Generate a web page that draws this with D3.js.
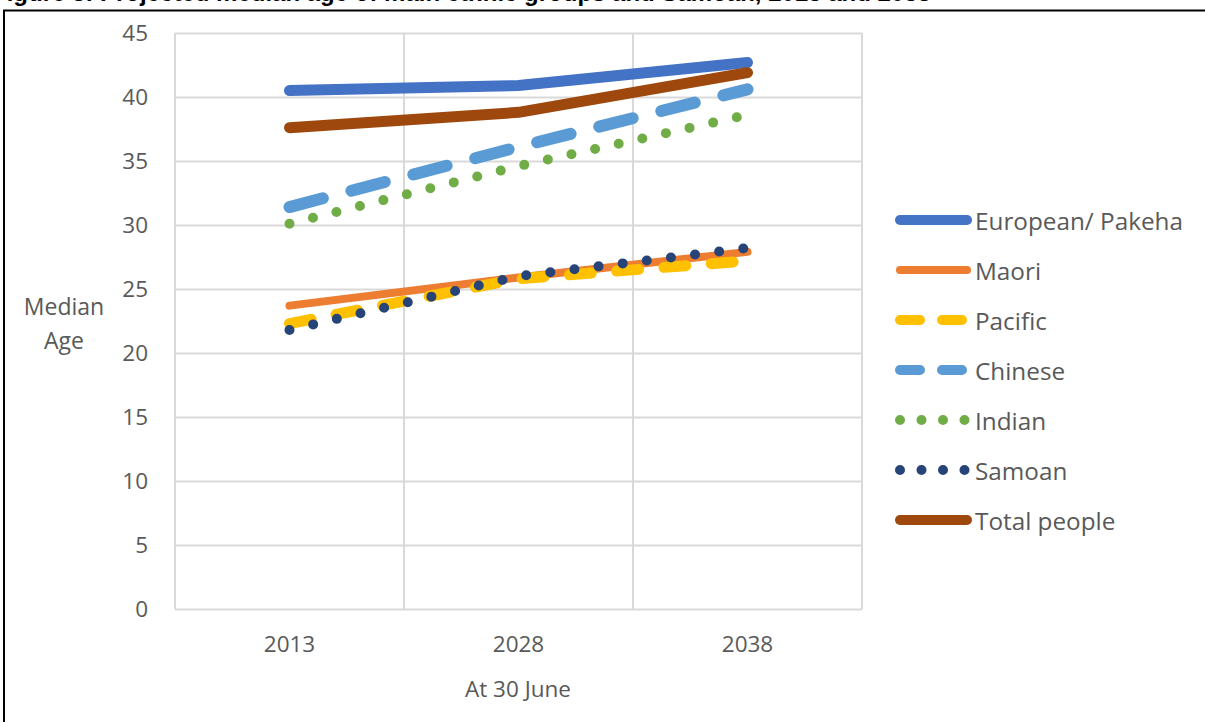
<!DOCTYPE html>
<html>
<head>
<meta charset="utf-8">
<script src="https://cdn.jsdelivr.net/npm/d3@7"></script>
<style>
  body { margin: 0; background: #fff; }
  svg { display: block; }
</style>
</head>
<body>
<svg id="chart" width="1205" height="722"></svg>
<script>
// Projected median age by ethnic group, at 30 June
const years = ["2013", "2028", "2038"];
const yTicks = [0, 5, 10, 15, 20, 25, 30, 35, 40, 45];

const european = [40.5, 40.9, 42.7];
const maori    = [23.7, 25.9, 27.9];
const pacific  = [22.3, 25.8, 27.2];
const chinese  = [31.4, 36.1, 40.6];
const indian   = [30.1, 34.6, 38.6];
const samoan   = [21.8, 26.0, 28.2];
const total    = [37.6, 38.8, 41.9];

const seriesNames = ["European/ Pakeha", "Maori", "Pacific", "Chinese", "Indian", "Samoan", "Total people"];
const seriesValues = [european, maori, pacific, chinese, indian, samoan, total];

const titleText = "Figure 3: Projected median age of main ethnic groups and Samoan, 2013 and 2038";

// Line styling per series (plot stroke, legend stroke)
const styles = [
  { color: "#4472C4", width: 11, dash: null,        legendWidth: 10, legendDash: null },
  { color: "#ED7D31", width: 8,  dash: null,        legendWidth: 8,  legendDash: null },
  { color: "#FFC000", width: 11, dash: "22,25.4",   legendWidth: 10, legendDash: "20,22" },
  { color: "#5B9BD5", width: 12, dash: "34.5,29.5", legendWidth: 10, legendDash: "20,22" },
  { color: "#70AD47", width: 10, dash: "0,24.2",    legendWidth: 10, legendDash: "0,21.5" },
  { color: "#264478", width: 10, dash: "0,24.3",    legendWidth: 10, legendDash: "0,21.5" },
  { color: "#9E480E", width: 11, dash: null,        legendWidth: 10, legendDash: null }
];

const svg = d3.select("#chart");
const font = "'Open Sans', 'DejaVu Sans', sans-serif";
const textGrey = "#595959";
const gridGrey = "#D9D9D9";

const plot = { left: 175, right: 862, top: 33, bottom: 609 };

const x = d3.scaleBand().domain(years).range([plot.left, plot.right]).padding(0);
const y = d3.scaleLinear().domain([0, 45]).range([plot.bottom, plot.top]);

// Title strip (cut by the top of the frame) and frame
svg.append("text")
  .attr("x", -8).attr("y", 1)
  .attr("font-family", "Arial, 'Liberation Sans', sans-serif")
  .attr("font-weight", "bold")
  .attr("font-size", 24)
  .attr("fill", "#000")
  .text(titleText);

svg.append("rect")
  .attr("x", 4).attr("y", 10.5)
  .attr("width", 1400).attr("height", 900)
  .attr("fill", "#fff")
  .attr("stroke", "#000").attr("stroke-width", 2);

// Horizontal gridlines + y labels
const yAxis = d3.axisLeft(y).tickValues(yTicks).tickSize(-(plot.right - plot.left)).tickPadding(27);
const gy = svg.append("g").attr("transform", `translate(${plot.left},0)`).call(yAxis);
gy.select(".domain").remove();
gy.selectAll(".tick line").attr("stroke", gridGrey).attr("stroke-width", 2);
gy.selectAll(".tick text")
  .attr("font-family", font).attr("font-size", 22.5).attr("fill", textGrey);

// Vertical gridlines at category boundaries
const bounds = years.map(d => x(d)).concat([x(years[years.length - 1]) + x.bandwidth()]);
svg.append("g").selectAll("line").data(bounds).join("line")
  .attr("x1", d => d).attr("x2", d => d)
  .attr("y1", plot.top).attr("y2", plot.bottom)
  .attr("stroke", gridGrey).attr("stroke-width", 2);

// x labels
const xAxis = d3.axisBottom(x).tickSize(0).tickPadding(27);
const gx = svg.append("g").attr("transform", `translate(0,${plot.bottom})`).call(xAxis);
gx.select(".domain").remove();
gx.selectAll(".tick text")
  .attr("font-family", font).attr("font-size", 22.5).attr("fill", textGrey);

// Axis titles
svg.append("text")
  .attr("x", 518).attr("y", 688)
  .attr("text-anchor", "middle").attr("dominant-baseline", "central")
  .attr("font-family", font).attr("font-size", 22.5).attr("fill", textGrey)
  .text("At 30 June");

const yTitle = svg.append("text")
  .attr("text-anchor", "middle")
  .attr("font-family", font).attr("font-size", 23).attr("fill", textGrey);
yTitle.append("tspan").attr("x", 64).attr("y", 306).attr("dominant-baseline", "central").text("Median");
yTitle.append("tspan").attr("x", 64).attr("y", 340).attr("dominant-baseline", "central").text("Age");

// Series lines
const line = d3.line()
  .x((d, i) => x(years[i]) + x.bandwidth() / 2)
  .y(d => y(d));

svg.append("g").selectAll("path").data(seriesValues).join("path")
  .attr("d", d => line(d))
  .attr("fill", "none")
  .attr("stroke", (d, i) => styles[i].color)
  .attr("stroke-width", (d, i) => styles[i].width)
  .attr("stroke-dasharray", (d, i) => styles[i].dash)
  .attr("stroke-linecap", "round")
  .attr("stroke-linejoin", "round");

// Legend
const legend = svg.append("g");
const rows = legend.selectAll("g").data(seriesNames).join("g")
  .attr("transform", (d, i) => `translate(0,${220 + i * 50})`);
rows.append("line")
  .attr("x1", 900).attr("x2", (d, i) => styles[i].legendDash && styles[i].legendDash.startsWith("0") ? 965 : 967)
  .attr("y1", 0).attr("y2", 0)
  .attr("stroke", (d, i) => styles[i].color)
  .attr("stroke-width", (d, i) => styles[i].legendWidth)
  .attr("stroke-dasharray", (d, i) => styles[i].legendDash)
  .attr("stroke-linecap", "round");
rows.append("text")
  .attr("x", 975).attr("y", 0)
  .attr("dominant-baseline", "central")
  .attr("font-family", font).attr("font-size", 24.3).attr("fill", textGrey)
  .text(d => d);
</script>
</body>
</html>
